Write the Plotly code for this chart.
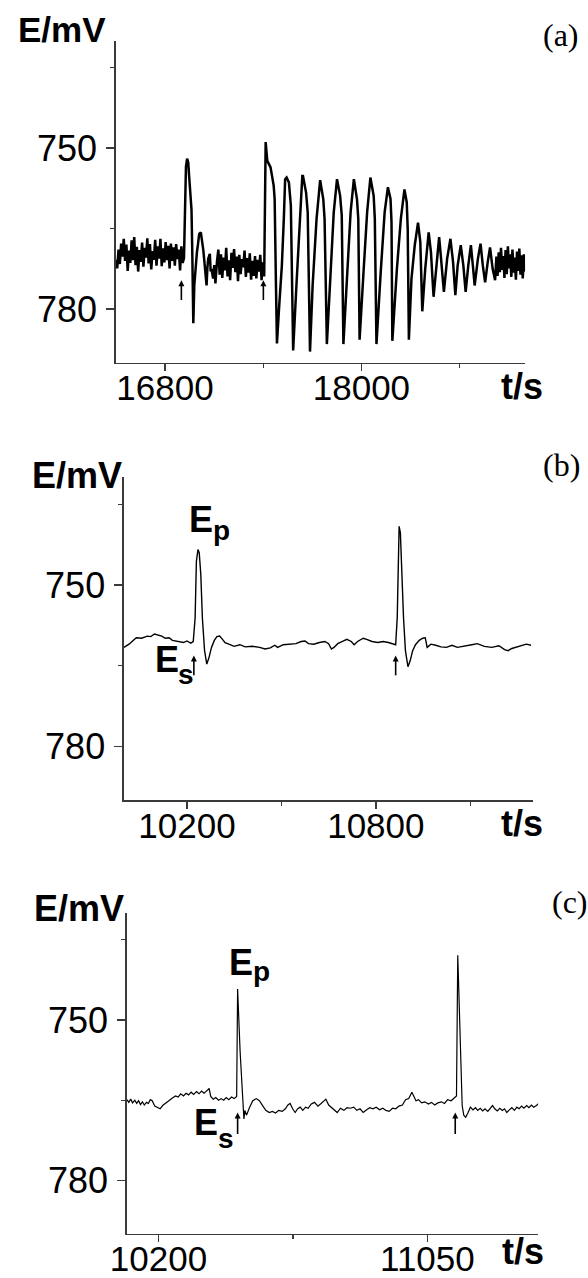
import plotly.graph_objects as go

W, H = 588, 1278

# ---------------- Panel (a) data ----------------
ta = [16500, 16508, 16516, 16524, 16532, 16540, 16548, 16556, 16564, 16572, 16580, 16588, 16596,
      16604, 16612, 16620, 16628, 16636, 16644, 16652, 16660, 16668, 16676, 16684, 16692, 16700,
      16708, 16716, 16724, 16732, 16740, 16748, 16756, 16764, 16772, 16780, 16788, 16796, 16804,
      16812, 16820, 16828, 16836, 16844, 16852, 16860, 16868, 16876, 16884, 16892, 16900, 16908, 16916,
      16922, 16928, 16935, 16942, 16948, 16955, 16962, 16967, 16973, 16979, 16987, 16995, 17002,
      17009, 17019, 17029, 17034, 17039, 17048, 17054, 17059, 17064, 17074, 17079, 17084, 17094,
      17101, 17108, 17118,
      17126, 17134, 17142, 17150, 17158, 17166, 17174, 17182, 17190, 17198, 17206, 17214, 17222,
      17230, 17238, 17246, 17254, 17262, 17270, 17278, 17286, 17294, 17302, 17310, 17318, 17326,
      17334, 17342, 17350, 17358, 17366, 17374, 17382, 17390, 17398, 17406,
      17413, 17415, 17425, 17445, 17464, 17470, 17478, 17484, 17498, 17514, 17526, 17534, 17543,
      17557, 17569, 17579, 17583, 17603, 17623, 17639, 17643, 17662, 17672, 17686, 17702, 17726,
      17748, 17767, 17775, 17789, 17811, 17831, 17851, 17870, 17880, 17890, 17914, 17934, 17954,
      17973, 17981, 17989, 18013, 18035, 18055, 18075, 18082, 18092, 18118, 18142, 18162, 18178,
      18184, 18189, 18217, 18241, 18263, 18277, 18283, 18290, 18306, 18326, 18346, 18360, 18372,
      18390, 18411, 18425, 18441, 18461, 18475, 18485, 18504, 18524, 18544, 18560, 18574, 18588,
      18607, 18623, 18637, 18653, 18669, 18683, 18692, 18712, 18728, 18742, 18756, 18772, 18786,
      18802, 18817,
      18825, 18832, 18839, 18846, 18853, 18860, 18867, 18874, 18881, 18888, 18895, 18902, 18909,
      18916, 18923, 18930, 18937, 18944, 18951, 18958, 18965, 18972, 18979, 18986, 18993, 19000]
Ea = [770.8, 772.4, 768.9, 771.6, 767.8, 770.2, 766.9, 771.0, 768.0, 772.9, 769.1, 771.4, 767.2,
      770.9, 766.6, 771.8, 768.4, 773.0, 769.0, 771.2, 767.6, 772.1, 768.6, 770.4, 766.8, 771.5,
      767.9, 772.6, 769.2, 770.8, 767.1, 771.9, 768.3, 770.6, 766.9, 772.0, 768.7, 771.3, 767.5,
      770.9, 768.2, 772.4, 767.8, 771.0, 768.5, 771.9, 767.9, 770.7, 768.9, 772.8, 768.3, 771.4, 770.5,
      762.0, 753.5, 752.0, 752.7, 755.5, 758.3, 761.5, 770.0, 782.6, 775.6, 772.0, 769.4, 767.8,
      766.0, 765.7, 767.6, 769.0, 770.6, 773.7, 775.6, 772.3, 770.6, 769.7, 773.0, 772.5, 774.3,
      771.8, 775.2, 771.0,
      768.9, 773.6, 769.8, 774.2, 770.4, 772.8, 768.6, 773.9, 770.9, 774.6, 769.5, 772.3, 768.8,
      773.1, 770.2, 774.8, 769.9, 773.5, 770.7, 772.2, 769.1, 774.0, 770.5, 773.2, 769.6, 774.5,
      771.0, 773.8, 770.1, 774.3, 770.8, 773.0, 769.9, 774.6, 771.3, 773.9,
      760.0, 748.9, 752.4, 753.6, 757.0, 759.5, 775.6, 786.4, 779.3, 771.9, 763.2, 755.8, 755.5,
      756.4, 760.7, 775.6, 787.7, 775.6, 763.2, 755.2, 755.2, 758.3, 762.0, 787.9, 775.6, 763.2,
      756.0, 759.5, 763.2, 786.5, 773.7, 762.0, 755.8, 758.9, 762.6, 786.5, 773.1, 762.0, 755.8,
      759.5, 763.2, 785.7, 773.1, 762.0, 755.5, 758.9, 763.2, 786.5, 773.1, 762.0, 757.3, 759.5,
      763.8, 785.9, 772.5, 763.2, 757.7, 760.1, 765.1, 785.7, 774.3, 768.1, 763.9, 767.5, 780.4,
      772.5, 765.7, 769.4, 777.7, 770.6, 766.6, 770.0, 776.8, 770.6, 766.9, 771.2, 777.4, 771.9,
      768.1, 771.9, 776.8, 771.9, 768.1, 772.5, 775.6, 770.6, 767.8, 771.9, 775.0, 771.2, 768.5,
      772.5, 774.6,
      770.2, 773.8, 769.4, 773.1, 768.6, 772.7, 770.1, 774.2, 769.0, 773.5, 768.3, 772.4, 769.8,
      774.0, 768.9, 773.2, 770.4, 774.5, 769.3, 772.9, 768.7, 773.6, 770.0, 774.3, 769.8, 773.0]

# ---------------- Panel (b) data ----------------
tb = [10000, 10016, 10039, 10056, 10074, 10085, 10097, 10111, 10120, 10131, 10143, 10154, 10166,
      10177, 10189, 10200, 10212, 10220, 10226, 10230, 10235, 10239, 10244, 10249, 10256, 10263,
      10270, 10278, 10287, 10295, 10304, 10313, 10321, 10333, 10350, 10368, 10385, 10408, 10431,
      10448, 10465, 10479, 10488, 10506, 10523, 10546, 10563, 10575, 10586, 10603, 10621, 10638,
      10650, 10659, 10667, 10679, 10694, 10708, 10722, 10731, 10742, 10760, 10771, 10788, 10806,
      10823, 10840, 10855, 10863, 10868, 10871, 10874, 10878, 10882, 10888, 10894, 10902, 10909,
      10917, 10926, 10938, 10949, 10957, 10963, 10975, 10990, 11007, 11024, 11042, 11059, 11082,
      11105, 11122, 11145, 11168, 11191, 11209, 11220, 11232, 11247, 11263, 11278, 11293]
Eb = [761.6, 761.0, 759.8, 759.9, 759.5, 759.6, 759.1, 759.3, 759.5, 759.9, 759.8, 760.3, 760.4,
      760.5, 760.7, 760.4, 760.8, 760.5, 756.1, 745.6, 743.4, 744.0, 748.0, 756.1, 762.2, 764.7,
      763.5, 761.6, 760.3, 759.6, 759.5, 760.1, 760.7, 761.0, 761.4, 761.1, 761.5, 761.4, 761.6,
      761.9, 761.7, 761.2, 761.6, 761.1, 761.0, 760.9, 760.5, 760.4, 760.9, 761.0, 760.7, 760.5,
      760.9, 761.9, 761.6, 760.9, 760.5, 760.1, 760.5, 761.1, 760.5, 759.9, 760.1, 760.5, 760.7,
      760.5, 760.7, 761.0, 761.1, 756.1, 743.7, 739.1, 740.3, 746.8, 756.1, 762.2, 765.2, 764.1,
      762.2, 761.1, 760.3, 759.9, 759.8, 761.6, 761.0, 761.2, 761.5, 761.6, 761.2, 761.6, 761.4,
      761.1, 760.9, 761.4, 761.6, 761.3, 762.0, 762.2, 761.8, 761.5, 761.2, 761.0, 761.2]

# ---------------- Panel (c) data ----------------
tc = [10100, 10106, 10112, 10118, 10125, 10131, 10137, 10143, 10149, 10155, 10162, 10168, 10174,
      10180, 10188, 10197, 10205, 10213, 10221, 10229, 10238, 10246, 10254, 10262, 10270, 10279,
      10287, 10295, 10303, 10311, 10320, 10328, 10336, 10344, 10353, 10360, 10365, 10373, 10381,
      10390, 10398, 10406, 10414, 10422, 10431, 10439, 10447, 10450, 10458, 10470, 10473, 10478,
      10488, 10498, 10509, 10519, 10529, 10539, 10550, 10560, 10570, 10580, 10591, 10601, 10609,
      10616, 10624, 10632, 10640, 10648, 10656, 10665, 10673, 10683, 10693, 10704, 10714, 10722,
      10729, 10738, 10745, 10755, 10765, 10775, 10786, 10796, 10806, 10817, 10827, 10837, 10847,
      10858, 10868, 10878, 10888, 10899, 10909, 10919, 10929, 10940, 10950, 10960, 10971, 10981,
      10991, 11001, 11007, 11014, 11022, 11032, 11042, 11053, 11063, 11073, 11083, 11094, 11104,
      11114, 11125, 11135, 11142, 11146, 11152, 11160, 11165, 11171, 11178, 11186, 11194, 11202,
      11209, 11217, 11225, 11232, 11241, 11248, 11256, 11263, 11271, 11279, 11287, 11294, 11301,
      11309, 11317, 11325, 11333, 11340, 11348, 11355, 11364, 11371, 11379, 11386, 11395, 11402]
Ec = [764.9, 765.4, 764.8, 765.5, 765.0, 765.6, 765.1, 765.8, 765.3, 765.9, 765.4, 765.6, 764.9,
      765.1, 766.1, 766.4, 766.6, 766.0, 765.6, 765.3, 764.8, 764.5, 764.2, 764.4, 763.8, 764.2,
      763.7, 764.0, 763.5, 763.9, 763.4, 763.8, 763.3, 763.7, 763.2, 762.8, 764.3, 764.8, 764.5,
      765.0, 764.7, 765.0, 764.5, 764.9, 764.4, 764.7, 764.3, 744.2, 756.0, 768.5, 766.9, 767.8,
      766.3, 765.1, 764.7, 765.1, 766.0, 766.9, 767.3, 767.1, 767.4, 766.9, 767.1, 766.6, 765.9,
      765.6, 766.6, 767.3, 766.6, 766.3, 766.9, 766.3, 766.5, 765.7, 765.4, 766.1, 765.6, 765.1,
      764.8, 765.9, 766.3, 766.8, 767.3, 766.5, 766.9, 766.4, 766.5, 766.3, 766.9, 766.6, 767.3,
      766.8, 766.4, 766.6, 766.3, 766.8, 766.5, 766.9, 767.1, 766.5, 766.6, 766.1, 765.9, 764.9,
      764.7, 763.5, 764.3, 765.1, 764.9, 765.5, 765.3, 765.7, 765.4, 765.9, 765.5, 765.3, 765.6,
      764.9, 765.1, 764.5, 764.2, 737.9, 752.0, 766.0, 767.8, 768.2, 767.4, 766.3, 766.8, 766.4,
      766.9, 766.5, 767.0, 766.6, 767.1, 766.5, 766.0, 766.6, 767.0, 766.5, 766.9, 766.6, 767.3,
      766.8, 766.4, 766.9, 766.3, 766.6, 766.1, 766.5, 766.0, 766.4, 765.9, 766.3, 766.0, 765.6]

# Stimulus arrows: time positions, and (tip, tail) potentials for each panel
arrows_a = [16900, 17401]
arrows_b = [10222, 10863]
arrows_c = [10450, 11138]
arrow_tip_tail = {"a": (774.6, 778.3), "b": (763.1, 766.8), "c": (767.3, 771.3)}

# Axis ticks
y_major = [750, 780]
y_minor = [735, 765]
xa_major, xa_minor = [16800, 18000], [17400, 18600]
xb_major, xb_minor = [10200, 10800], [10500, 11100]
xc_major, xc_minor = [10200, 11050], [10625]
y_range = [790, 730]
xa_range = [16500, 19000]
xb_range = [10000, 11300]
xc_range = [10100, 11400]

# ---------------- layout helpers ----------------
AX = "#3a3a3a"
SANS = "Liberation Sans, Arial, sans-serif"
SERIF = "Liberation Serif, Times New Roman, serif"


def xdom(l, r):
    return [l / W, r / W]


def ydom(t, b):
    return [1 - b / H, 1 - t / H]


def xaxis(dom, anchor, rng, major, minor):
    return dict(domain=dom, anchor=anchor, range=rng, tickmode="array", tickvals=major,
                ticktext=[str(v) for v in major], ticks="outside", ticklen=7, tickwidth=1.4,
                tickcolor=AX, showline=True, linecolor=AX, linewidth=1.6, showgrid=False,
                zeroline=False, tickfont=dict(family=SANS, size=35, color="black"),
                ticklabelstandoff=-13,
                minor=dict(tickmode="array", tickvals=minor, ticks="outside", ticklen=4,
                           tickwidth=1.2, tickcolor=AX, showgrid=False),
                fixedrange=True)


def yaxis(dom, anchor):
    return dict(domain=dom, anchor=anchor, range=y_range, tickmode="array", tickvals=y_major,
                ticktext=[str(v) for v in y_major], ticks="outside", ticklen=8, tickwidth=1.4,
                tickcolor=AX, showline=True, linecolor=AX, linewidth=1.6, showgrid=False,
                zeroline=False, tickfont=dict(family=SANS, size=36, color="black"),
                ticklabelstandoff=2,
                minor=dict(tickmode="array", tickvals=y_minor, ticks="outside", ticklen=4,
                           tickwidth=1.2, tickcolor=AX, showgrid=False),
                fixedrange=True)


fig = go.Figure()
fig.add_trace(go.Scatter(x=ta, y=Ea, mode="lines", line=dict(color="black", width=2.5),
                         xaxis="x", yaxis="y", showlegend=False, hoverinfo="skip"))
fig.add_trace(go.Scatter(x=tb, y=Eb, mode="lines", line=dict(color="black", width=1.4),
                         xaxis="x2", yaxis="y2", showlegend=False, hoverinfo="skip"))
fig.add_trace(go.Scatter(x=tc, y=Ec, mode="lines", line=dict(color="black", width=1.2),
                         xaxis="x3", yaxis="y3", showlegend=False, hoverinfo="skip"))


def add_arrows(times, key, xa, ya):
    tip, tail = arrow_tip_tail[key]
    sx, sy = [], []
    for t in times:
        sx += [t, t, None]
        sy += [tail, tip + 0.8, None]
    fig.add_trace(go.Scatter(x=sx, y=sy, mode="lines", line=dict(color="black", width=1.6),
                             xaxis=xa, yaxis=ya, showlegend=False, hoverinfo="skip"))
    fig.add_trace(go.Scatter(x=times, y=[tip] * len(times), mode="markers",
                             marker=dict(symbol="arrow-up", size=6, color="black",
                                         line=dict(width=0)),
                             xaxis=xa, yaxis=ya, showlegend=False, hoverinfo="skip"))


add_arrows(arrows_a, "a", "x", "y")
add_arrows(arrows_b, "b", "x2", "y2")
add_arrows(arrows_c, "c", "x3", "y3")

annotations = []


def label(text, px, py, size, xanchor="left", bold=True, family=SANS):
    annotations.append(dict(text=("<b>%s</b>" % text) if bold else text, x=px / W, y=1 - py / H,
                            xref="paper", yref="paper", xanchor=xanchor, yanchor="middle",
                            showarrow=False, borderpad=0, borderwidth=0,
                            font=dict(family=family, size=size, color="black")))


# axis titles
label("E/mV", 93, 30, 35, xanchor="right")
label("E/mV", 109, 477, 36, xanchor="right")
label("E/mV", 111, 912, 36, xanchor="right")
label("t/s", 499, 388, 36)
label("t/s", 499, 827, 36)
label("t/s", 500, 1256, 36)
# panel letters
label("(a)", 560, 35, 32, xanchor="center", bold=False, family=SERIF)
label("(b)", 561, 467, 32, xanchor="center", bold=False, family=SERIF)
label("(c)", 569, 906, 32, xanchor="center", bold=False, family=SERIF)

# E_p / E_s markers: main letter plus its subscript letter placed just after it
EW = 24.5  # advance of a bold 36 px "E"


def e_label(sub, px, py_cap_center, py_sub_center):
    label("E", px, py_cap_center, 36)
    label(sub, px + EW, py_sub_center, 28)


e_label("p", 177.5, 521.5, 533)
e_label("s", 142.5, 662.5, 677)
e_label("p", 219, 966, 975)
e_label("s", 183, 1126.5, 1143)

fig.update_layout(
    width=W, height=H, autosize=False,
    margin=dict(l=0, r=0, t=0, b=0),
    paper_bgcolor="white", plot_bgcolor="white",
    showlegend=False,
    xaxis=xaxis(xdom(102.7, 523.3), "y", xa_range, xa_major, xa_minor),
    yaxis=yaxis(ydom(40.7, 364.3), "x"),
    xaxis2=xaxis(xdom(111, 531.7), "y2", xb_range, xb_major, xb_minor),
    yaxis2=yaxis(ydom(479.3, 803.3), "x2"),
    xaxis3=xaxis(xdom(114, 536.7), "y3", xc_range, xc_major, xc_minor),
    yaxis3=yaxis(ydom(916.7, 1238.7), "x3"),
    annotations=annotations,
)

fig.write_html("out.html", config={"displayModeBar": False, "staticPlot": True},
               post_script="document.body.style.margin='0';document.body.style.overflow='hidden';")
